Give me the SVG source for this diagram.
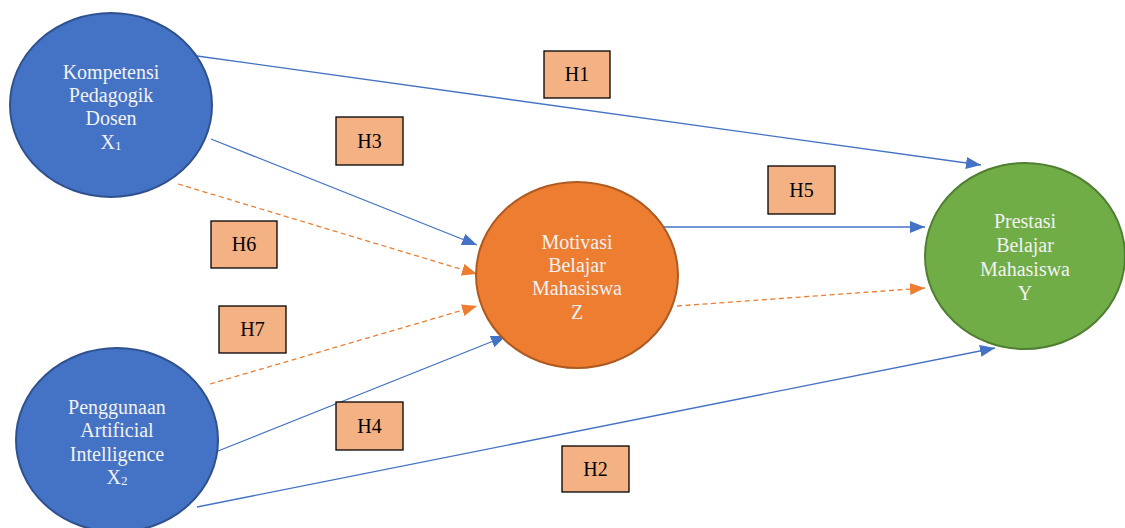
<svg xmlns="http://www.w3.org/2000/svg" width="1125" height="528" viewBox="0 0 1125 528">
<style>
.nt{font-family:'Liberation Serif','Times New Roman','DejaVu Serif',serif;font-size:20px;fill:#f2f2f2;text-anchor:middle}
.lt{font-family:'Liberation Serif','Times New Roman','DejaVu Serif',serif;font-size:20px;fill:#000;text-anchor:middle}
.box{fill:#F4B183;stroke:#000;stroke-width:1.3}
.bl{stroke:#4472C4;stroke-width:1.3;fill:none}
.or{stroke:#ED7D31;stroke-width:1.3;fill:none;stroke-dasharray:5 3.5}
</style>
<defs>
<marker id="ab" markerUnits="userSpaceOnUse" markerWidth="16" markerHeight="14" refX="15" refY="6" orient="auto"><path d="M0,0 L15,6 L0,12 Z" fill="#4472C4"/></marker>
<marker id="ao" markerUnits="userSpaceOnUse" markerWidth="16" markerHeight="14" refX="15" refY="6" orient="auto"><path d="M0,0 L15,6 L0,12 Z" fill="#ED7D31"/></marker>
</defs>
<rect width="1125" height="528" fill="#fff"/>
<g id="connectors">
<line class="bl" x1="197" y1="56" x2="981" y2="165" marker-end="url(#ab)"/>
<line class="bl" x1="211" y1="139" x2="477" y2="245" marker-end="url(#ab)"/>
<line class="or" x1="178" y1="184" x2="477" y2="274" marker-end="url(#ao)"/>
<line class="or" x1="210" y1="384" x2="477" y2="306" marker-end="url(#ao)"/>
<line class="bl" x1="218" y1="451" x2="506" y2="336" marker-end="url(#ab)"/>
<line class="bl" x1="197" y1="507" x2="995" y2="348" marker-end="url(#ab)"/>
<line class="bl" x1="659" y1="227" x2="925" y2="227" marker-end="url(#ab)"/>
<line class="or" x1="677" y1="306" x2="925" y2="288" marker-end="url(#ao)"/>
</g>
<g id="X1">
<ellipse cx="111" cy="105" rx="101" ry="92" fill="#4472C4" stroke="#2F528F" stroke-width="2"/>
<text class="nt" x="111" y="79">Kompetensi</text>
<text class="nt" x="111" y="102">Pedagogik</text>
<text class="nt" x="111" y="125">Dosen</text>
<text class="nt" x="111" y="149">X<tspan font-size="13" dy="1">1</tspan></text>
</g>
<g id="X2">
<ellipse cx="117" cy="440" rx="101" ry="92" fill="#4472C4" stroke="#2F528F" stroke-width="2"/>
<text class="nt" x="117" y="414">Penggunaan</text>
<text class="nt" x="117" y="437">Artificial</text>
<text class="nt" x="117" y="461">Intelligence</text>
<text class="nt" x="117" y="484">X<tspan font-size="13" dy="1">2</tspan></text>
</g>
<g id="Z">
<ellipse cx="577" cy="275" rx="101" ry="93" fill="#ED7D31" stroke="#AE5A21" stroke-width="2"/>
<text class="nt" x="577" y="249">Motivasi</text>
<text class="nt" x="577" y="272">Belajar</text>
<text class="nt" x="577" y="295">Mahasiswa</text>
<text class="nt" x="577" y="319">Z</text>
</g>
<g id="Y">
<ellipse cx="1025" cy="256" rx="100" ry="93" fill="#70AD47" stroke="#507E32" stroke-width="2"/>
<text class="nt" x="1025" y="228">Prestasi</text>
<text class="nt" x="1025" y="252">Belajar</text>
<text class="nt" x="1025" y="276">Mahasiswa</text>
<text class="nt" x="1025" y="300">Y</text>
</g>
<g id="H1"><rect class="box" x="544" y="51" width="66" height="47"/><text class="lt" x="577" y="81">H1</text></g>
<g id="H3"><rect class="box" x="336" y="117" width="67" height="48"/><text class="lt" x="369.5" y="148">H3</text></g>
<g id="H6"><rect class="box" x="211" y="221" width="66" height="47"/><text class="lt" x="244" y="251">H6</text></g>
<g id="H7"><rect class="box" x="219" y="306" width="67" height="47"/><text class="lt" x="252.5" y="336">H7</text></g>
<g id="H4"><rect class="box" x="336" y="402" width="67" height="48"/><text class="lt" x="369.5" y="433">H4</text></g>
<g id="H5"><rect class="box" x="768" y="166" width="67" height="48"/><text class="lt" x="801.5" y="197">H5</text></g>
<g id="H2"><rect class="box" x="562" y="446" width="67" height="46"/><text class="lt" x="595.5" y="476">H2</text></g>
</svg>
